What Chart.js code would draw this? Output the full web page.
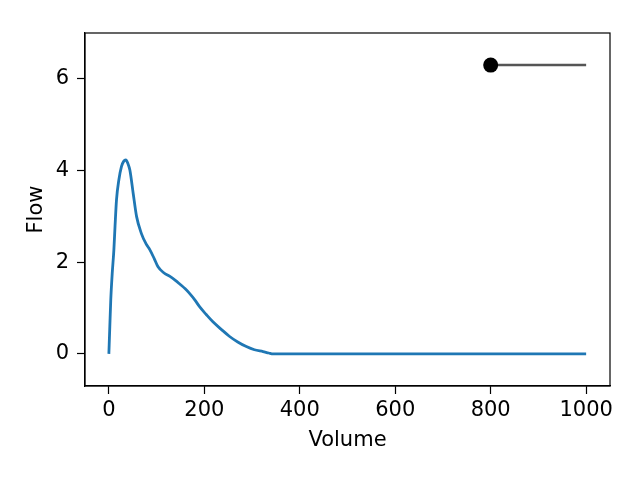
<!DOCTYPE html>
<html>
<head>
<meta charset="utf-8">
<script src="https://cdn.jsdelivr.net/npm/chart.js@4/dist/chart.umd.min.js"></script>
<style>
  html, body { margin: 0; padding: 0; background: #fff; }
  #wrap { width: 640px; height: 480px; }
</style>
</head>
<body>
<div id="wrap"><canvas id="chart" width="640" height="480"></canvas></div>
<script>
// flow-volume curve
const volume = [0, 2, 4, 7, 10.5, 13, 16, 21, 26.5, 31, 35.5, 40, 44, 51, 58, 68, 78, 86, 95, 103, 115, 128, 140, 149, 160, 169, 180, 190, 204, 218, 235, 253, 270, 288, 305, 323, 335, 344, 358, 1000];
const flow = [0, 0.6, 1.18, 1.75, 2.27, 2.8, 3.36, 3.8, 4.09, 4.2, 4.23, 4.15, 4.01, 3.5, 3.0, 2.63, 2.4, 2.27, 2.08, 1.9, 1.77, 1.69, 1.6, 1.52, 1.42, 1.32, 1.18, 1.03, 0.86, 0.70, 0.54, 0.38, 0.26, 0.16, 0.09, 0.05, 0.02, 0, 0, 0];

// marker with its line at the top right
const markerVolume = [800, 1000];
const markerFlow = [6.3, 6.3];

const xTicks = [0, 200, 400, 600, 800, 1000];
const yTicks = [0, 2, 4, 6];

const fontFamily = '"DejaVu Sans", sans-serif';
const fontSize = 21;

const toPoints = (xs, ys) => xs.map((x, i) => ({ x: x, y: ys[i] }));

// draws the top and right sides of the axes box
const boxPlugin = {
    id: 'box',
    afterDraw: (chart) => {
        const a = chart.chartArea;
        const ctx = chart.ctx;
        ctx.save();
        ctx.strokeStyle = '#000';
        ctx.lineWidth = 1.2;
        ctx.strokeRect(a.left, a.top, a.right - a.left, a.bottom - a.top);
        ctx.restore();
    }
};

const ctx = document.getElementById('chart').getContext('2d');

new Chart(ctx, {
    type: 'scatter',
    data: {
        datasets: [
            {
                data: toPoints(volume, flow),
                showLine: true,
                borderColor: '#1f77b4',
                borderWidth: 2.8,
                pointRadius: 0,
                cubicInterpolationMode: 'monotone'
            },
            {
                data: toPoints(markerVolume, markerFlow),
                showLine: true,
                borderColor: '#555555',
                borderWidth: 2.5,
                pointRadius: [7.5, 0],
                pointBackgroundColor: '#000',
                pointBorderWidth: 0
            }
        ]
    },
    options: {
        responsive: false,
        animation: false,
        layout: { padding: { top: 33, right: 30, left: 22, bottom: 25 } },
        plugins: {
            legend: { display: false },
            tooltip: { enabled: false }
        },
        scales: {
            x: {
                type: 'linear',
                min: -50,
                max: 1050,
                afterBuildTicks: (scale) => { scale.ticks = xTicks.map(v => ({ value: v })); },
                afterFit: (scale) => { scale.height = 69; },
                grid: { drawOnChartArea: false, drawTicks: true, tickLength: 8, tickWidth: 1.2, tickColor: '#000' },
                border: { display: true, color: '#000', width: 1.2 },
                ticks: { color: '#000', padding: 4, maxRotation: 0, callback: (v) => String(v), font: { family: fontFamily, size: fontSize } },
                title: { display: true, text: 'Volume', color: '#000', padding: 2, font: { family: fontFamily, size: fontSize } }
            },
            y: {
                type: 'linear',
                min: -0.7,
                max: 7,
                afterBuildTicks: (scale) => { scale.ticks = yTicks.map(v => ({ value: v })); },
                afterFit: (scale) => { scale.width = 63; },
                grid: { drawOnChartArea: false, drawTicks: true, tickLength: 8, tickWidth: 1.2, tickColor: '#000' },
                border: { display: true, color: '#000', width: 1.2 },
                ticks: { color: '#000', padding: 8, callback: (v) => String(v), font: { family: fontFamily, size: fontSize } },
                title: { display: true, text: 'Flow', color: '#000', padding: 2, font: { family: fontFamily, size: fontSize } }
            }
        }
    },
    plugins: [boxPlugin]
});
</script>
</body>
</html>
